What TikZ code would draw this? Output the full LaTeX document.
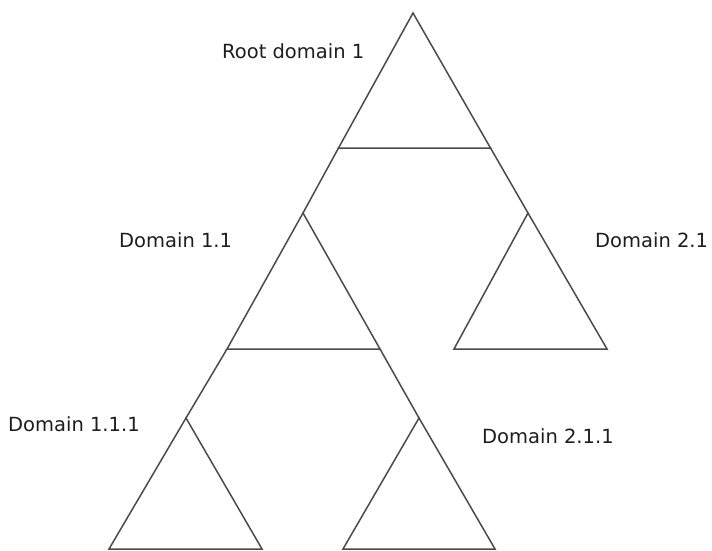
\documentclass[tikz,border=0pt]{standalone}
\usepackage{fontspec}
\setmainfont{DejaVu Sans}
\usepackage{tikz}
\definecolor{edgegray}{RGB}{75,75,75}
\definecolor{labelgray}{RGB}{30,30,30}
\tikzset{
  domline/.style={line width=1.5pt, draw=edgegray, line join=miter},
  domlabel/.style={anchor=west, inner sep=0pt, text=labelgray, font=\fontsize{19.5}{23}\selectfont}
}

\begin{document}
\begin{tikzpicture}[x=1pt,y=-1pt]
\useasboundingbox (0,0) rectangle (712,550);
% root triangle
\coordinate (R) at (413,13);
\coordinate (RL) at (338.5,148);
\coordinate (RR) at (490.5,148);
% domain 1.1
\coordinate (A) at (303,213);
\coordinate (AL) at (227,349);
\coordinate (AR) at (380,349);
% domain 2.1
\coordinate (B) at (528,213);
\coordinate (BL) at (454,349);
\coordinate (BR) at (607,349);
% domain 1.1.1
\coordinate (C) at (186,418);
\coordinate (CL) at (109,549);
\coordinate (CR) at (262,549);
% domain 2.1.1
\coordinate (D) at (419,418);
\coordinate (DL) at (343,549);
\coordinate (DR) at (495,549);
\draw[domline] (R) -- (RL) -- (RR) -- cycle;
\draw[domline] (A) -- (AL) -- (AR) -- cycle;
\draw[domline] (B) -- (BL) -- (BR) -- cycle;
\draw[domline] (C) -- (CL) -- (CR) -- cycle;
\draw[domline] (D) -- (DL) -- (DR) -- cycle;
\draw[domline] (RL) -- (A);
\draw[domline] (RR) -- (B);
\draw[domline] (AL) -- (C);
\draw[domline] (AR) -- (D);
\node[domlabel] (root) at (222,51) {Root domain 1};
\node[domlabel] (d11) at (119,240) {Domain 1.1};
\node[domlabel] (d21) at (595,240) {Domain 2.1};
\node[domlabel] (d111) at (8,424) {Domain 1.1.1};
\node[domlabel] (d211) at (482,436) {Domain 2.1.1};
\end{tikzpicture}
\end{document}
